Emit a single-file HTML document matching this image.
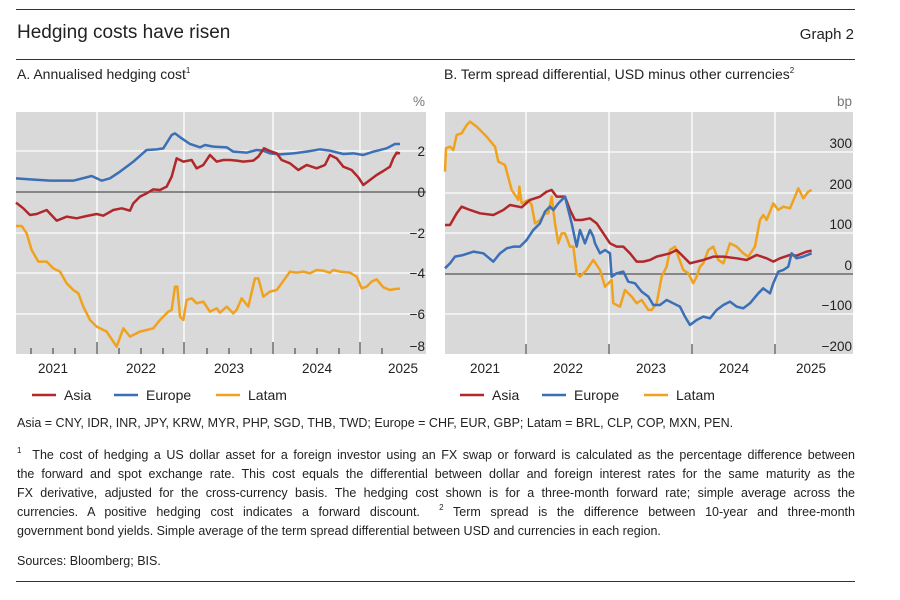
<!DOCTYPE html>
<html><head><meta charset="utf-8"><style>
body{margin:0;background:#fff;width:900px;height:600px;overflow:hidden;font-family:"Liberation Sans",sans-serif;color:#222;position:relative}
.a{position:absolute;white-space:nowrap}
.rule{position:absolute;left:16px;width:839px;height:1px;background:#333}
.notes{position:absolute;left:17px;width:838px;font-size:12.5px;line-height:19px}
.notes div{text-align:justify;text-align-last:justify;white-space:nowrap;height:19px}
.notes div.l{text-align-last:left}
sup{font-size:8px;line-height:0;vertical-align:6px}
</style></head><body>
<div class="rule" style="top:9px"></div>
<div class="a" style="left:17px;top:22px;font-size:19px">Hedging costs have risen</div>
<div class="a" style="right:46px;top:26px;font-size:15px">Graph 2</div>
<div class="rule" style="top:59px"></div>
<div class="a" style="left:17px;top:66px;font-size:14px">A. Annualised hedging cost<sup>1</sup></div>
<div class="a" style="left:444px;top:66px;font-size:14px">B. Term spread differential, USD minus other currencies<sup>2</sup></div>
<svg class="a" style="left:0;top:0" width="900" height="420" font-family="Liberation Sans,sans-serif" font-size="13.5" fill="#222">
<rect x="16" y="112" width="410" height="242" fill="#d9d9d9"/>
<g stroke="#fff" stroke-width="1.3">
<line x1="16" x2="426" y1="151" y2="151"/><line x1="16" x2="426" y1="233" y2="233"/><line x1="16" x2="426" y1="273" y2="273"/><line x1="16" x2="426" y1="314" y2="314"/>
<line x1="97" x2="97" y1="112" y2="354"/><line x1="184" x2="184" y1="112" y2="354"/><line x1="273" x2="273" y1="112" y2="354"/><line x1="360" x2="360" y1="112" y2="354"/>
</g>
<line x1="16" x2="426" y1="192" y2="192" stroke="#555" stroke-width="1.2"/>
<g stroke="#333" stroke-width="1">
<line x1="31" x2="31" y1="348" y2="354"/><line x1="53" x2="53" y1="348" y2="354"/><line x1="75" x2="75" y1="348" y2="354"/><line x1="97" x2="97" y1="342" y2="354"/>
<line x1="119" x2="119" y1="348" y2="354"/><line x1="141" x2="141" y1="348" y2="354"/><line x1="163" x2="163" y1="348" y2="354"/><line x1="184" x2="184" y1="342" y2="354"/>
<line x1="207" x2="207" y1="348" y2="354"/><line x1="229" x2="229" y1="348" y2="354"/><line x1="251" x2="251" y1="348" y2="354"/><line x1="273" x2="273" y1="342" y2="354"/>
<line x1="295" x2="295" y1="348" y2="354"/><line x1="317" x2="317" y1="348" y2="354"/><line x1="339" x2="339" y1="348" y2="354"/><line x1="360" x2="360" y1="342" y2="354"/>
<line x1="382" x2="382" y1="348" y2="354"/>
<line x1="526" x2="526" y1="344" y2="354"/><line x1="609" x2="609" y1="344" y2="354"/><line x1="692" x2="692" y1="344" y2="354"/><line x1="775" x2="775" y1="344" y2="354"/>
</g>
<g text-anchor="end"><text x="425" y="106" fill="#777">%</text><text x="425" y="156">2</text><text x="425" y="197">0</text><text x="425" y="238">−2</text><text x="425" y="278">−4</text><text x="425" y="319">−6</text><text x="425" y="351">−8</text></g>
<g text-anchor="middle"><text x="53" y="373">2021</text><text x="141" y="373">2022</text><text x="229" y="373">2023</text><text x="317" y="373">2024</text><text x="403" y="373">2025</text></g>
<g transform="translate(0,90) scale(0.3333)" fill="none" stroke-width="7.5" stroke-linejoin="round">
<polyline stroke="#3b6fb6" points="48,265 90,268 150,272 220,272 275,258 305,272 330,265 360,245 400,215 440,180 470,178 490,175 515,135 525,130 545,145 570,162 600,172 615,165 640,170 680,172 700,185 740,188 770,180 790,182 810,190 840,193 880,190 920,185 960,178 990,182 1030,192 1060,190 1090,195 1120,185 1160,175 1185,162 1200,162"/>
<polyline stroke="#b0282b" points="48,338 70,355 90,375 110,372 140,360 170,392 200,380 230,385 260,378 290,372 310,377 340,360 365,355 390,362 400,340 420,320 440,310 460,298 480,300 500,290 515,260 530,205 550,215 575,210 590,235 610,225 630,195 650,215 670,210 690,210 710,212 730,215 760,212 775,200 792,175 810,183 830,190 845,210 870,220 895,240 920,225 950,235 975,225 990,195 1010,205 1030,230 1055,240 1075,262 1090,285 1110,270 1130,255 1150,243 1170,230 1180,205 1190,188 1200,190"/>
<polyline stroke="#f0a21e" points="48,408 65,408 80,430 95,480 115,515 140,515 160,535 180,545 200,580 220,600 235,610 250,650 270,690 290,710 320,725 340,755 350,770 370,715 390,740 420,725 440,720 460,715 480,690 505,665 515,660 525,590 532,590 540,680 550,690 560,630 575,625 590,640 610,635 630,665 650,655 660,668 680,650 700,670 710,660 725,625 745,650 765,565 775,565 790,620 810,605 830,600 845,580 870,545 890,548 910,545 930,550 950,540 970,542 990,548 1000,540 1020,545 1050,548 1070,560 1085,595 1100,590 1115,575 1130,568 1150,592 1170,600 1185,597 1200,596"/>
</g>
<rect x="445" y="112" width="408" height="242" fill="#d9d9d9"/>
<g stroke="#fff" stroke-width="1.3">
<line x1="445" x2="853" y1="152" y2="152"/><line x1="445" x2="853" y1="193" y2="193"/><line x1="445" x2="853" y1="233" y2="233"/><line x1="445" x2="853" y1="314" y2="314"/>
<line x1="526" x2="526" y1="112" y2="354"/><line x1="609" x2="609" y1="112" y2="354"/><line x1="692" x2="692" y1="112" y2="354"/><line x1="775" x2="775" y1="112" y2="354"/>
</g>
<line x1="445" x2="853" y1="274" y2="274" stroke="#555" stroke-width="1.2"/>
<g stroke="#333"><line x1="526" x2="526" y1="344" y2="354"/><line x1="609" x2="609" y1="344" y2="354"/><line x1="692" x2="692" y1="344" y2="354"/><line x1="775" x2="775" y1="344" y2="354"/></g>
<g text-anchor="end"><text x="852" y="106" fill="#777">bp</text><text x="852" y="148">300</text><text x="852" y="189">200</text><text x="852" y="229">100</text><text x="852" y="270">0</text><text x="852" y="310">−100</text><text x="852" y="351">−200</text></g>
<g text-anchor="middle"><text x="485" y="373">2021</text><text x="568" y="373">2022</text><text x="651" y="373">2023</text><text x="734" y="373">2024</text><text x="811" y="373">2025</text></g>
<g transform="translate(430,90) scale(0.3333)" fill="none" stroke-width="7.5" stroke-linejoin="round">
<polyline stroke="#f0a21e" points="45,245 48,175 60,170 70,180 80,135 95,130 110,105 120,95 140,110 170,140 195,170 205,215 225,225 245,300 265,330 268,290 275,340 295,330 305,345 315,400 330,390 345,370 355,370 365,320 375,400 385,460 395,430 405,430 420,470 430,470 440,550 450,560 470,540 490,510 510,540 525,590 545,570 550,640 570,650 585,600 605,620 620,640 635,630 655,660 665,660 680,640 695,560 710,530 720,480 735,470 745,500 760,540 775,550 790,580 800,560 810,530 820,520 835,480 850,470 865,510 880,520 900,460 920,470 940,490 955,500 975,470 990,390 1000,375 1010,390 1030,340 1045,360 1060,350 1080,355 1095,320 1105,295 1120,325 1135,305 1145,300"/>
<polyline stroke="#b0282b" points="45,405 60,405 80,370 95,350 120,360 150,370 190,375 220,360 240,345 275,352 300,330 330,320 350,305 365,300 380,320 405,320 420,360 435,390 455,390 480,385 500,400 520,430 540,460 560,470 580,470 600,490 620,515 640,515 660,510 680,500 720,490 740,480 760,500 780,520 800,515 820,510 850,500 880,500 920,505 950,510 980,495 1010,505 1030,515 1050,505 1080,495 1100,497 1130,485 1145,482"/>
<polyline stroke="#3b6fb6" points="45,535 60,520 75,500 100,495 130,485 160,490 190,515 210,490 230,475 250,470 270,470 290,450 310,420 330,400 345,365 360,350 370,360 385,340 405,320 415,360 425,400 440,470 450,420 465,460 480,420 490,440 495,460 510,490 525,480 540,490 545,560 560,550 580,545 595,575 615,580 635,605 655,620 670,645 690,645 710,630 730,640 750,650 765,680 780,705 800,690 820,680 840,685 860,660 880,645 900,635 920,650 940,655 960,640 985,610 1000,595 1020,610 1030,580 1045,545 1060,540 1075,530 1085,490 1100,505 1120,500 1145,490"/>
</g>
<g font-size="14">
<line x1="32" x2="56" y1="395" y2="395" stroke="#b0282b" stroke-width="2.5"/><text x="64" y="400">Asia</text>
<line x1="114" x2="138" y1="395" y2="395" stroke="#3b6fb6" stroke-width="2.5"/><text x="146" y="400">Europe</text>
<line x1="216" x2="240" y1="395" y2="395" stroke="#f0a21e" stroke-width="2.5"/><text x="248" y="400">Latam</text>
<line x1="460" x2="484" y1="395" y2="395" stroke="#b0282b" stroke-width="2.5"/><text x="492" y="400">Asia</text>
<line x1="542" x2="566" y1="395" y2="395" stroke="#3b6fb6" stroke-width="2.5"/><text x="574" y="400">Europe</text>
<line x1="644" x2="668" y1="395" y2="395" stroke="#f0a21e" stroke-width="2.5"/><text x="676" y="400">Latam</text>
</g>
</svg>
<div class="notes" style="top:414px"><div class="l">Asia = CNY, IDR, INR, JPY, KRW, MYR, PHP, SGD, THB, TWD; Europe = CHF, EUR, GBP; Latam =  BRL, CLP, COP, MXN, PEN.</div></div>
<div class="notes" style="top:446px">
<div><sup>1</sup>&nbsp; The cost of hedging a US dollar asset for a foreign investor using an FX swap or forward is calculated as the percentage difference between</div>
<div>the forward and spot exchange rate. This cost equals the differential between dollar and foreign interest rates for the same maturity as the</div>
<div>FX derivative, adjusted for the cross-currency basis. The hedging cost shown is for a three-month forward rate; simple average across the</div>
<div>currencies. A positive hedging cost indicates a forward discount. &nbsp;<sup>2</sup> Term spread is the difference between 10-year and three-month</div>
<div class="l">government bond yields. Simple average of the term spread differential between USD and currencies in each region.</div>
</div>
<div class="notes" style="top:552px"><div class="l">Sources: Bloomberg; BIS.</div></div>
<div class="rule" style="top:581px"></div>
</body></html>
